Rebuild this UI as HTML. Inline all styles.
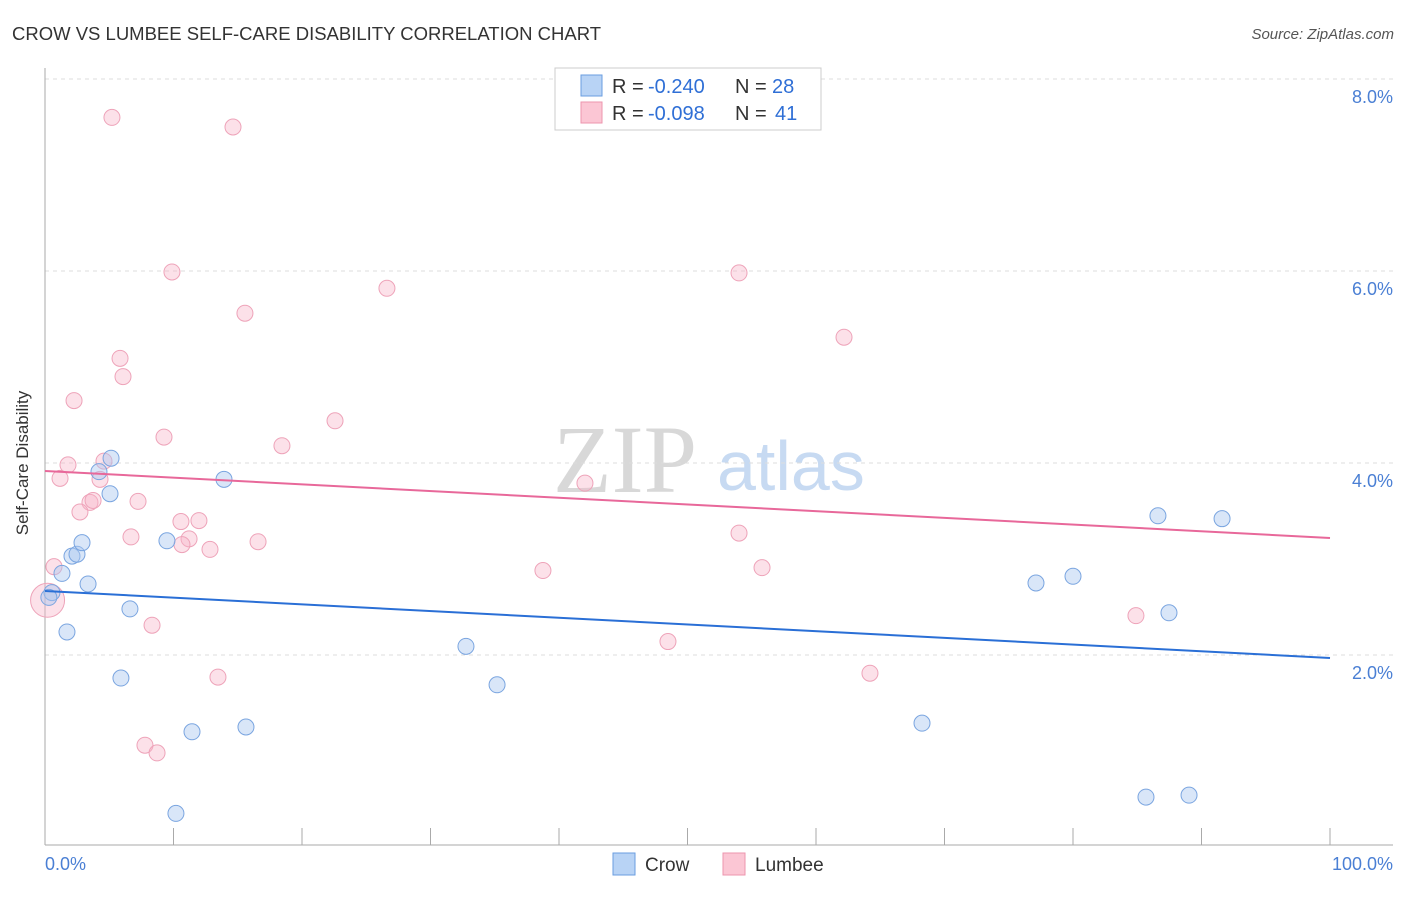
<!DOCTYPE html>
<html><head><meta charset="utf-8"><style>
body{margin:0;background:#fff;font-family:"Liberation Sans",sans-serif;}
</style></head><body>
<svg id="chart" width="1406" height="892" xmlns="http://www.w3.org/2000/svg">
<text x="12" y="40" font-size="18.5" fill="#333">CROW VS LUMBEE SELF-CARE DISABILITY CORRELATION CHART</text>
<text x="1394" y="39" font-size="15" fill="#555" font-style="italic" text-anchor="end">Source: ZipAtlas.com</text>
<g>
<text x="553" y="492" font-size="96" font-family="Liberation Serif,serif" fill="#d8d8d8">ZIP</text>
<text x="717" y="490" font-size="70" fill="#c7daf2">atlas</text>
</g>
<g id="grid"></g>
<g id="axes"></g>
<g id="points"></g>
<g id="trends"></g>
<text x="20" y="455" font-size="17" fill="#333" transform="rotate(-90 28 455)" text-anchor="middle">Self-Care Disability</text>
<text x="45" y="870" font-size="18" fill="#4a7fd4">0.0%</text>
<text x="1393" y="870" font-size="18" fill="#4a7fd4" text-anchor="end">100.0%</text>
<g>
<rect x="555" y="68" width="266" height="62" fill="#fff" stroke="#ccc"/>
<rect x="581" y="75" width="21" height="21" fill="#b8d3f5" stroke="#6a9ee0"/>
<rect x="581" y="102" width="21" height="21" fill="#fbc6d4" stroke="#ec95ae"/>
<g font-size="20" fill="#333">
<text x="612" y="93">R =</text><text x="648" y="93" fill="#2f6fd6">-0.240</text><text x="735" y="93">N =</text><text x="772" y="93" fill="#2f6fd6">28</text>
</g>
<g font-size="20" fill="#333">
<text x="612" y="120">R =</text><text x="648" y="120" fill="#2f6fd6">-0.098</text><text x="735" y="120">N =</text><text x="775" y="120" fill="#2f6fd6">41</text>
</g>
</g>
<g>
<rect x="613" y="853" width="22" height="22" fill="#b8d3f5" stroke="#6a9ee0"/>
<text x="645" y="871" font-size="19" fill="#333">Crow</text>
<rect x="723" y="853" width="22" height="22" fill="#fbc6d4" stroke="#ec95ae"/>
<text x="755" y="871" font-size="19" fill="#333">Lumbee</text>
</g>
</svg>
<script>
const yTicks=[2,4,6,8];
const yTickLabels=["2.0%","4.0%","6.0%","8.0%"];
const xTicks=[0,10,20,30,40,50,60,70,80,90,100];
const crowX=[0.54,1.32,1.71,2.10,2.49,2.88,3.35,4.20,5.06,5.14,5.91,6.61,9.49,10.19,11.44,13.93,15.64,32.76,35.18,68.25,77.12,80.00,85.68,86.61,87.47,89.03,91.60,0.3];
const crowY=[2.65,2.85,2.24,3.03,3.05,3.17,2.74,3.91,3.68,4.05,1.76,2.48,3.19,0.35,1.20,3.83,1.25,2.09,1.69,1.29,2.75,2.82,0.52,3.45,2.44,0.54,3.42,2.60];
const lumX=[5.21,14.63,9.88,54.01,26.61,15.56,62.18,5.84,6.07,2.26,22.57,9.26,18.44,1.79,1.17,4.59,4.28,3.50,3.74,7.24,2.72,10.58,11.98,6.69,11.21,10.66,12.84,16.58,54.01,0.70,38.75,55.80,8.33,48.48,84.90,13.46,64.20,7.78,8.72,42.02,0.2];
const lumY=[7.60,7.50,5.99,5.98,5.82,5.56,5.31,5.09,4.90,4.65,4.44,4.27,4.18,3.98,3.84,4.02,3.83,3.59,3.61,3.60,3.49,3.39,3.40,3.23,3.21,3.15,3.10,3.18,3.27,2.92,2.88,2.91,2.31,2.14,2.41,1.77,1.81,1.06,0.98,3.79,2.57];
const crowTrend=[2.667,1.969];
const lumTrend=[3.917,3.219];
const NS="http://www.w3.org/2000/svg";
const sx=v=>45+v*12.85, sy=v=>847-v*96;
function mk(t,a,p){const e=document.createElementNS(NS,t);for(const k in a)e.setAttribute(k,a[k]);p.appendChild(e);return e;}
const grid=document.getElementById('grid'),axes=document.getElementById('axes'),pts=document.getElementById('points'),tr=document.getElementById('trends');
yTicks.forEach((v,i)=>{
 const l=mk('line',{x1:45,x2:1393,y1:sy(v),y2:sy(v),stroke:'#ddd','stroke-dasharray':'4,4'},grid);
 
 
 const t=mk('text',{x:1393,y:sy(v)+24,'font-size':18,fill:'#4a7fd4','text-anchor':'end'},grid);
 t.textContent=yTickLabels[i];
 
 
});
const ya=mk('line',{x1:45,x2:45,y1:68,y2:845,stroke:'#aaa'},axes);


const xa=mk('line',{x1:45,x2:1393,y1:845,y2:845,stroke:'#aaa'},axes);


xTicks.forEach(v=>{
 const t=mk('line',{x1:sx(v),x2:sx(v),y1:828,y2:845,stroke:'#aaa'},axes);
 
 
});
lumX.forEach((x,i)=>{
 const big=i===lumX.length-1;
 const c=mk('circle',{cx:sx(x),cy:sy(lumY[i]),r:big?17:8,fill:'rgba(248,180,200,0.4)',stroke:'#eea3b9','stroke-width':1},pts);
 
 
});
crowX.forEach((x,i)=>{
 const c=mk('circle',{cx:sx(x),cy:sy(crowY[i]),r:8,fill:'rgba(170,200,240,0.45)',stroke:'#7aa5e0','stroke-width':1},pts);
 
 
});
const cl=mk('line',{x1:sx(0),x2:sx(100),y1:sy(crowTrend[0]),y2:sy(crowTrend[1]),stroke:'#2a6fd6','stroke-width':2},tr);


const ll=mk('line',{x1:sx(0),x2:sx(100),y1:sy(lumTrend[0]),y2:sy(lumTrend[1]),stroke:'#e8689a','stroke-width':2},tr);


</script>
</body></html>
